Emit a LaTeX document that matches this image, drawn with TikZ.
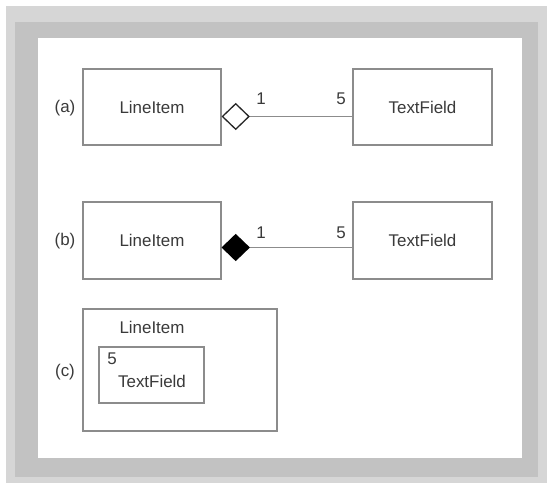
\documentclass[tikz,border=0pt]{standalone}
\usepackage{fontspec}
\setmainfont{Liberation Sans}
\usetikzlibrary{shapes.geometric,calc}
\definecolor{framelight}{HTML}{D6D6D6}
\definecolor{framedark}{HTML}{C2C2C2}
\definecolor{boxline}{HTML}{8C8C8C}
\definecolor{txt}{HTML}{3A3A3A}
\begin{document}
\begin{tikzpicture}[x=1bp,y=-1bp,
  font=\fontsize{17}{20}\selectfont,
  every node/.style={text=txt},
  classbox/.style={draw=boxline,line width=1.1bp,fill=white,inner sep=0pt},
  lbl/.style={inner sep=0pt},
  conn/.style={draw=boxline,line width=1.1bp},
  aggr/.style={shape=diamond,draw=black!85,line width=1.3bp,fill=white,inner sep=0pt,minimum width=27bp,minimum height=26bp},
  comp/.style={aggr,fill=black,draw=black}]
\useasboundingbox (0,0) rectangle (550,490);
\fill[white] (0,0) rectangle (550,490);
% frame
\fill[framelight] (6,6) rectangle (547,483);
\fill[framedark] (15,22) rectangle (538,477);
\fill[white] (38,38) rectangle (522,458);
% (a)
\node[classbox,minimum width=138bp,minimum height=76bp] (a1) at (152,107) {LineItem};
\node[classbox,minimum width=139bp,minimum height=76bp] (a2) at (422.5,107) {TextField};
\node[lbl] (alab) at (65,108) {(a)};
\node[aggr,anchor=west] (ad) at (a1.east |- 0,116.5) {};
\draw[conn] (ad.east) -- (ad.east -| a2.west);
\node[lbl] (a1m) at (261,99) {1};
\node[lbl] (a5m) at (341,99) {5};
% (b)
\node[classbox,minimum width=138bp,minimum height=77bp] (b1) at (152,240.5) {LineItem};
\node[classbox,minimum width=139bp,minimum height=77bp] (b2) at (422.5,240.5) {TextField};
\node[lbl] (blab) at (65,241) {(b)};
\node[comp,anchor=west] (bd) at (b1.east |- 0,247.5) {};
\draw[conn] (bd.east) -- (bd.east -| b2.west);
\node[lbl] (b1m) at (261,233) {1};
\node[lbl] (b5m) at (341,233) {5};
% (c)
\node[classbox,minimum width=194bp,minimum height=122bp] (c1) at (180,370) {};
\node[lbl] (c1t) at (152,327) {LineItem};
\node[classbox,minimum width=105bp,minimum height=56bp] (c2) at (151.5,375) {};
\node[lbl] (c2m) at (112,359) {5};
\node[lbl] (c2t) at (152,381) {TextField};
\node[lbl] (clab) at (65,372) {(c)};
\end{tikzpicture}
\end{document}
